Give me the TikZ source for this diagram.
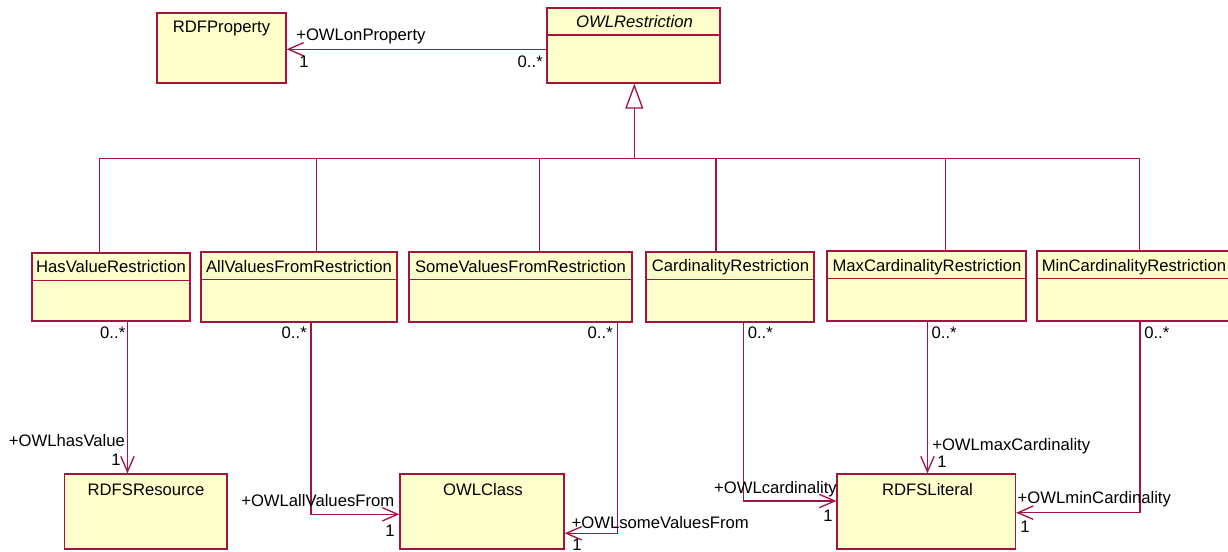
\documentclass[tikz,border=0pt]{standalone}
\usepackage{fontspec}
\setmainfont{Liberation Sans}
\usetikzlibrary{arrows.meta,fit}
\definecolor{umlline}{RGB}{165,20,65}
\definecolor{umlfill}{RGB}{255,255,204}
\begin{document}
\begin{tikzpicture}[x=0.75pt,y=-0.75pt,
  umltext/.style={font=\fontsize{12.5}{14}\selectfont, inner sep=0pt, text=black},
  box/.style={rectangle, draw=umlline, fill=umlfill, line width=1pt, inner sep=0pt},
  title/.style={umltext, anchor=base},
  lbl/.style={umltext},
  divider/.style={draw=umlline, line width=1pt},
  link/.style={draw=umlline, line width=1pt},
  assoc/.style={link, -{Straight Barb[length=11.5pt,width=10pt]}},
  gen/.style={link, -{Triangle[open,length=18.75pt,width=13.5pt,fill=white]}}]
\useasboundingbox (0,0) rectangle (1228,552);

% ---- classes ----
\node[box, fit={(157,13) (286,83)}] (rdfp) {};
\node[title] (rdfpt) at (221.5,32.5) {RDFProperty};

\node[box, fit={(547,8) (720,83)}] (owl) {};
\draw[divider] (owl.west |- 0,35) -- (owl.east |- 0,35);
\node[title, font=\fontsize{12.5}{14}\selectfont\itshape] (owlt) at (634.5,27.5) {OWLRestriction};

\node[box, fit={(32,253) (190,321)}] (hv) {};
\draw[divider] (hv.west |- 0,280.5) -- (hv.east |- 0,280.5);
\node[title] (hvt) at (111,272.5) {HasValueRestriction};

\node[box, fit={(201,252) (397,322)}] (av) {};
\draw[divider] (av.west |- 0,279.5) -- (av.east |- 0,279.5);
\node[title] (avt) at (299,272.5) {AllValuesFromRestriction};

\node[box, fit={(409,252) (632,322)}] (sv) {};
\draw[divider] (sv.west |- 0,279.5) -- (sv.east |- 0,279.5);
\node[title] (svt) at (520.5,272.5) {SomeValuesFromRestriction};

\node[box, fit={(646,252) (814,322)}] (cr) {};
\draw[divider] (cr.west |- 0,279.5) -- (cr.east |- 0,279.5);
\node[title] (crt) at (730.5,272) {CardinalityRestriction};

\node[box, fit={(827,251) (1026,321)}] (mx) {};
\draw[divider] (mx.west |- 0,278.7) -- (mx.east |- 0,278.7);
\node[title] (mxt) at (927,272) {MaxCardinalityRestriction};

\node[box, fit={(1037,251) (1236,321)}] (mn) {};
\draw[divider] (mn.west |- 0,278.7) -- (mn.east |- 0,278.7);
\node[title, anchor=base west] (mnt) at (1041.5,271.5) {MinCardinalityRestriction};

\node[box, fit={(64.5,474) (227,549)}] (rr) {};
\node[title] (rrt) at (146,495.5) {RDFSResource};

\node[box, fit={(400,474) (564,549)}] (oc) {};
\node[title] (oct) at (483,495.5) {OWLClass};

\node[box, fit={(837,474) (1015.5,549)}] (rl) {};
\node[title] (rlt) at (927.5,495.5) {RDFSLiteral};

% ---- generalization tree ----
\coordinate (jhv) at (99.5,158.3);
\coordinate (jav) at (316.7,158.3);
\coordinate (jsv) at (539.3,158.3);
\coordinate (jroot) at (634.3,158.3);
\coordinate (jcr) at (716,158.3);
\coordinate (jmx) at (945.7,158.3);
\coordinate (jmn) at (1139.3,158.3);
\draw[link] (jhv) -- (jmn);
\foreach \j/\c in {jhv/hv, jav/av, jsv/sv, jcr/cr, jmx/mx, jmn/mn}
  \draw[link] (\j) -- (\c.north -| \j);
\draw[gen] (jroot) -- (owl.south -| jroot);

% ---- associations ----
\coordinate (onp) at (0,49.3);
\draw[assoc] (owl.west |- onp) -- (rdfp.east |- onp);
\node[lbl, anchor=base west] (onpr) at (296,41) {+OWLonProperty};
\node[lbl, anchor=base west] (onp1) at (299,68) {1};
\node[lbl, anchor=base east] (onpm) at (543,67.5) {0..*};

\coordinate (hvx) at (127.5,400);
\draw[assoc] (hv.south -| hvx) -- (rr.north -| hvx);
\node[lbl, anchor=base east] (hvm) at (125.5,339) {0..*};
\node[lbl, anchor=base west] (hvr) at (8.7,446) {+OWLhasValue};
\node[lbl, anchor=base east] (hv1) at (121,465) {1};

\coordinate (avb) at (311,514.3);
\draw[assoc] (av.south -| avb) |- (oc.west |- avb);
\node[lbl, anchor=base east] (avm) at (307,339) {0..*};
\node[lbl, anchor=base west] (avr) at (241,506.5) {+OWLallValuesFrom};
\node[lbl, anchor=base east] (av1) at (395,536) {1};

\coordinate (svb) at (617.3,533.3);
\draw[assoc] (sv.south -| svb) |- (oc.east |- svb);
\node[lbl, anchor=base east] (svm) at (613,339) {0..*};
\node[lbl, anchor=base west] (svr) at (571.4,528.5) {+OWLsomeValuesFrom};
\node[lbl, anchor=base west] (sv1) at (572,550) {1};

\coordinate (crb) at (743.3,501);
\draw[assoc] (cr.south -| crb) |- (rl.west |- crb);
\node[lbl, anchor=base west] (crm) at (747.5,339) {0..*};
\node[lbl, anchor=base west] (crr) at (713.8,493.5) {+OWLcardinality};
\node[lbl, anchor=base east] (cr1) at (833,521.7) {1};

\coordinate (mxx) at (927.5,400);
\draw[assoc] (mx.south -| mxx) -- (rl.north -| mxx);
\node[lbl, anchor=base west] (mxm) at (931.4,339) {0..*};
\node[lbl, anchor=base west] (mxr) at (932,450) {+OWLmaxCardinality};
\node[lbl, anchor=base west] (mx1) at (937,467.7) {1};

\coordinate (mnb) at (1140,512.7);
\draw[assoc] (mn.south -| mnb) |- (rl.east |- mnb);
\node[lbl, anchor=base west] (mnm) at (1144,339) {0..*};
\node[lbl, anchor=base west] (mnr) at (1017.4,503.3) {+OWLminCardinality};
\node[lbl, anchor=base west] (mn1) at (1020,532.3) {1};
\end{tikzpicture}
\end{document}
